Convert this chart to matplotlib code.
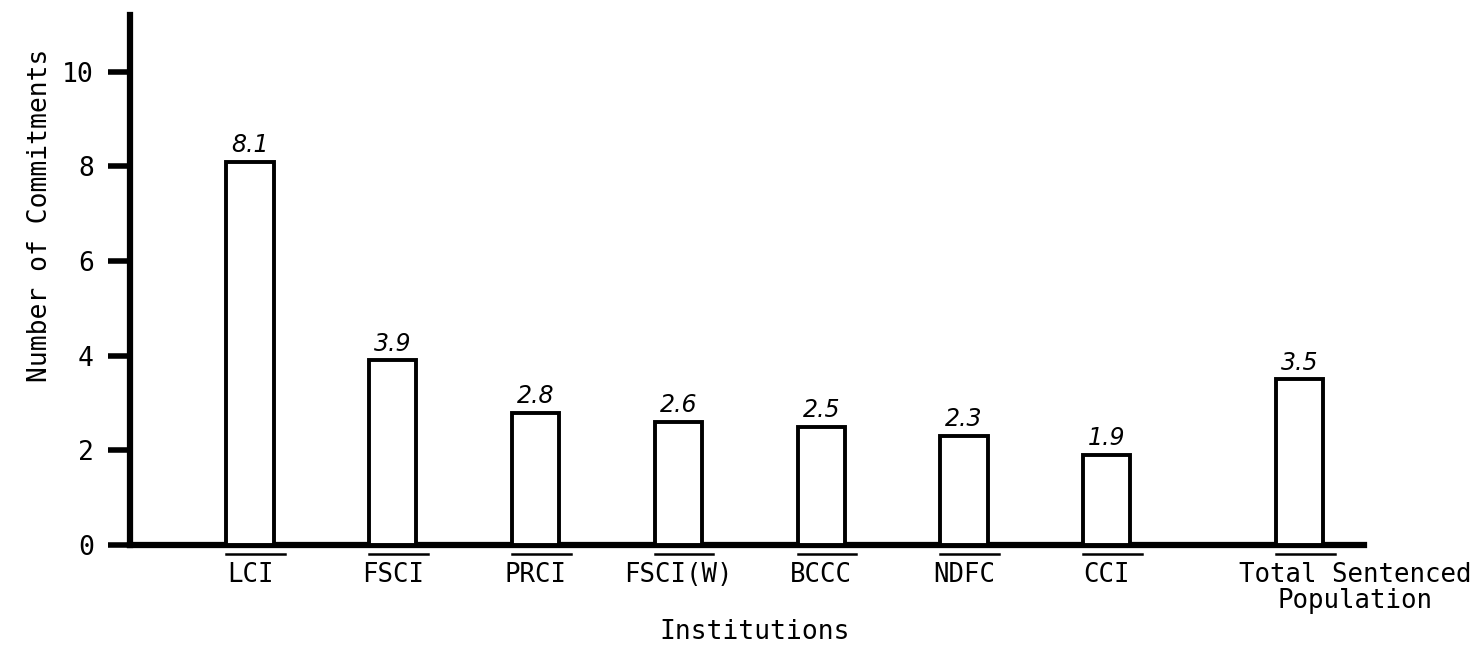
import matplotlib.pyplot as plt
import numpy as np

# data
institutions = ["LCI", "FSCI", "PRCI", "FSCI(W)", "BCCC", "NDFC", "CCI",
                "Total Sentenced\nPopulation"]
commitments = [8.1, 3.9, 2.8, 2.6, 2.5, 2.3, 1.9, 3.5]
value_labels = ["8.1", "3.9", "2.8", "2.6", "2.5", "2.3", "1.9", "3.5"]
y_ticks = [0, 2, 4, 6, 8, 10]

# bar positions: the total sits apart from the institutions
xpos = np.array([0, 1, 2, 3, 4, 5, 6, 7.35])
width = 0.33

plt.rcParams["font.family"] = "DejaVu Sans Mono"
fig = plt.figure(figsize=(14.83, 6.52), dpi=100)
ax = fig.add_axes([0.0877, 0.164, 0.832, 0.813])

ax.bar(xpos, commitments, width=width, color="white", edgecolor="black",
       linewidth=2.8, zorder=3)

# handwritten-style values above the bars
for x, v, lab in zip(xpos, commitments, value_labels):
    ax.text(x, v + 0.1, lab, ha="center", va="bottom", fontsize=17,
            style="italic", family="DejaVu Sans", fontweight="light")

# overline marks under the axis, above each label
for x in xpos:
    ax.plot([x - width / 2, x + width / 2 + 0.08], [-0.18, -0.18],
            color="black", lw=1.8, clip_on=False)

# category labels (the total's label sits a little to the right)
for i, (x, name) in enumerate(zip(xpos, institutions)):
    dx = 0.39 if i == len(institutions) - 1 else 0
    ax.text(x + dx, -0.36, name, ha="center", va="top", fontsize=18.5,
            linespacing=1.0)

ax.set_xlim(-0.84, 7.8)
ax.set_ylim(0, 11.2)
ax.set_xticks([])
ax.set_yticks(y_ticks)
ax.tick_params(axis="y", direction="out", length=16, width=4, pad=10,
               labelsize=19)

for side in ["top", "right"]:
    ax.spines[side].set_visible(False)
ax.spines["left"].set_linewidth(4.5)
ax.spines["bottom"].set_linewidth(4.5)

fig.text(40 / 1483, 1 - 215 / 652, "Number of Commitments", rotation=90,
         ha="center", va="center", fontsize=19)
fig.text(755 / 1483, 1 - 632 / 652, "Institutions", ha="center",
         va="center", fontsize=19)

fig.savefig("out.png", dpi=100)
